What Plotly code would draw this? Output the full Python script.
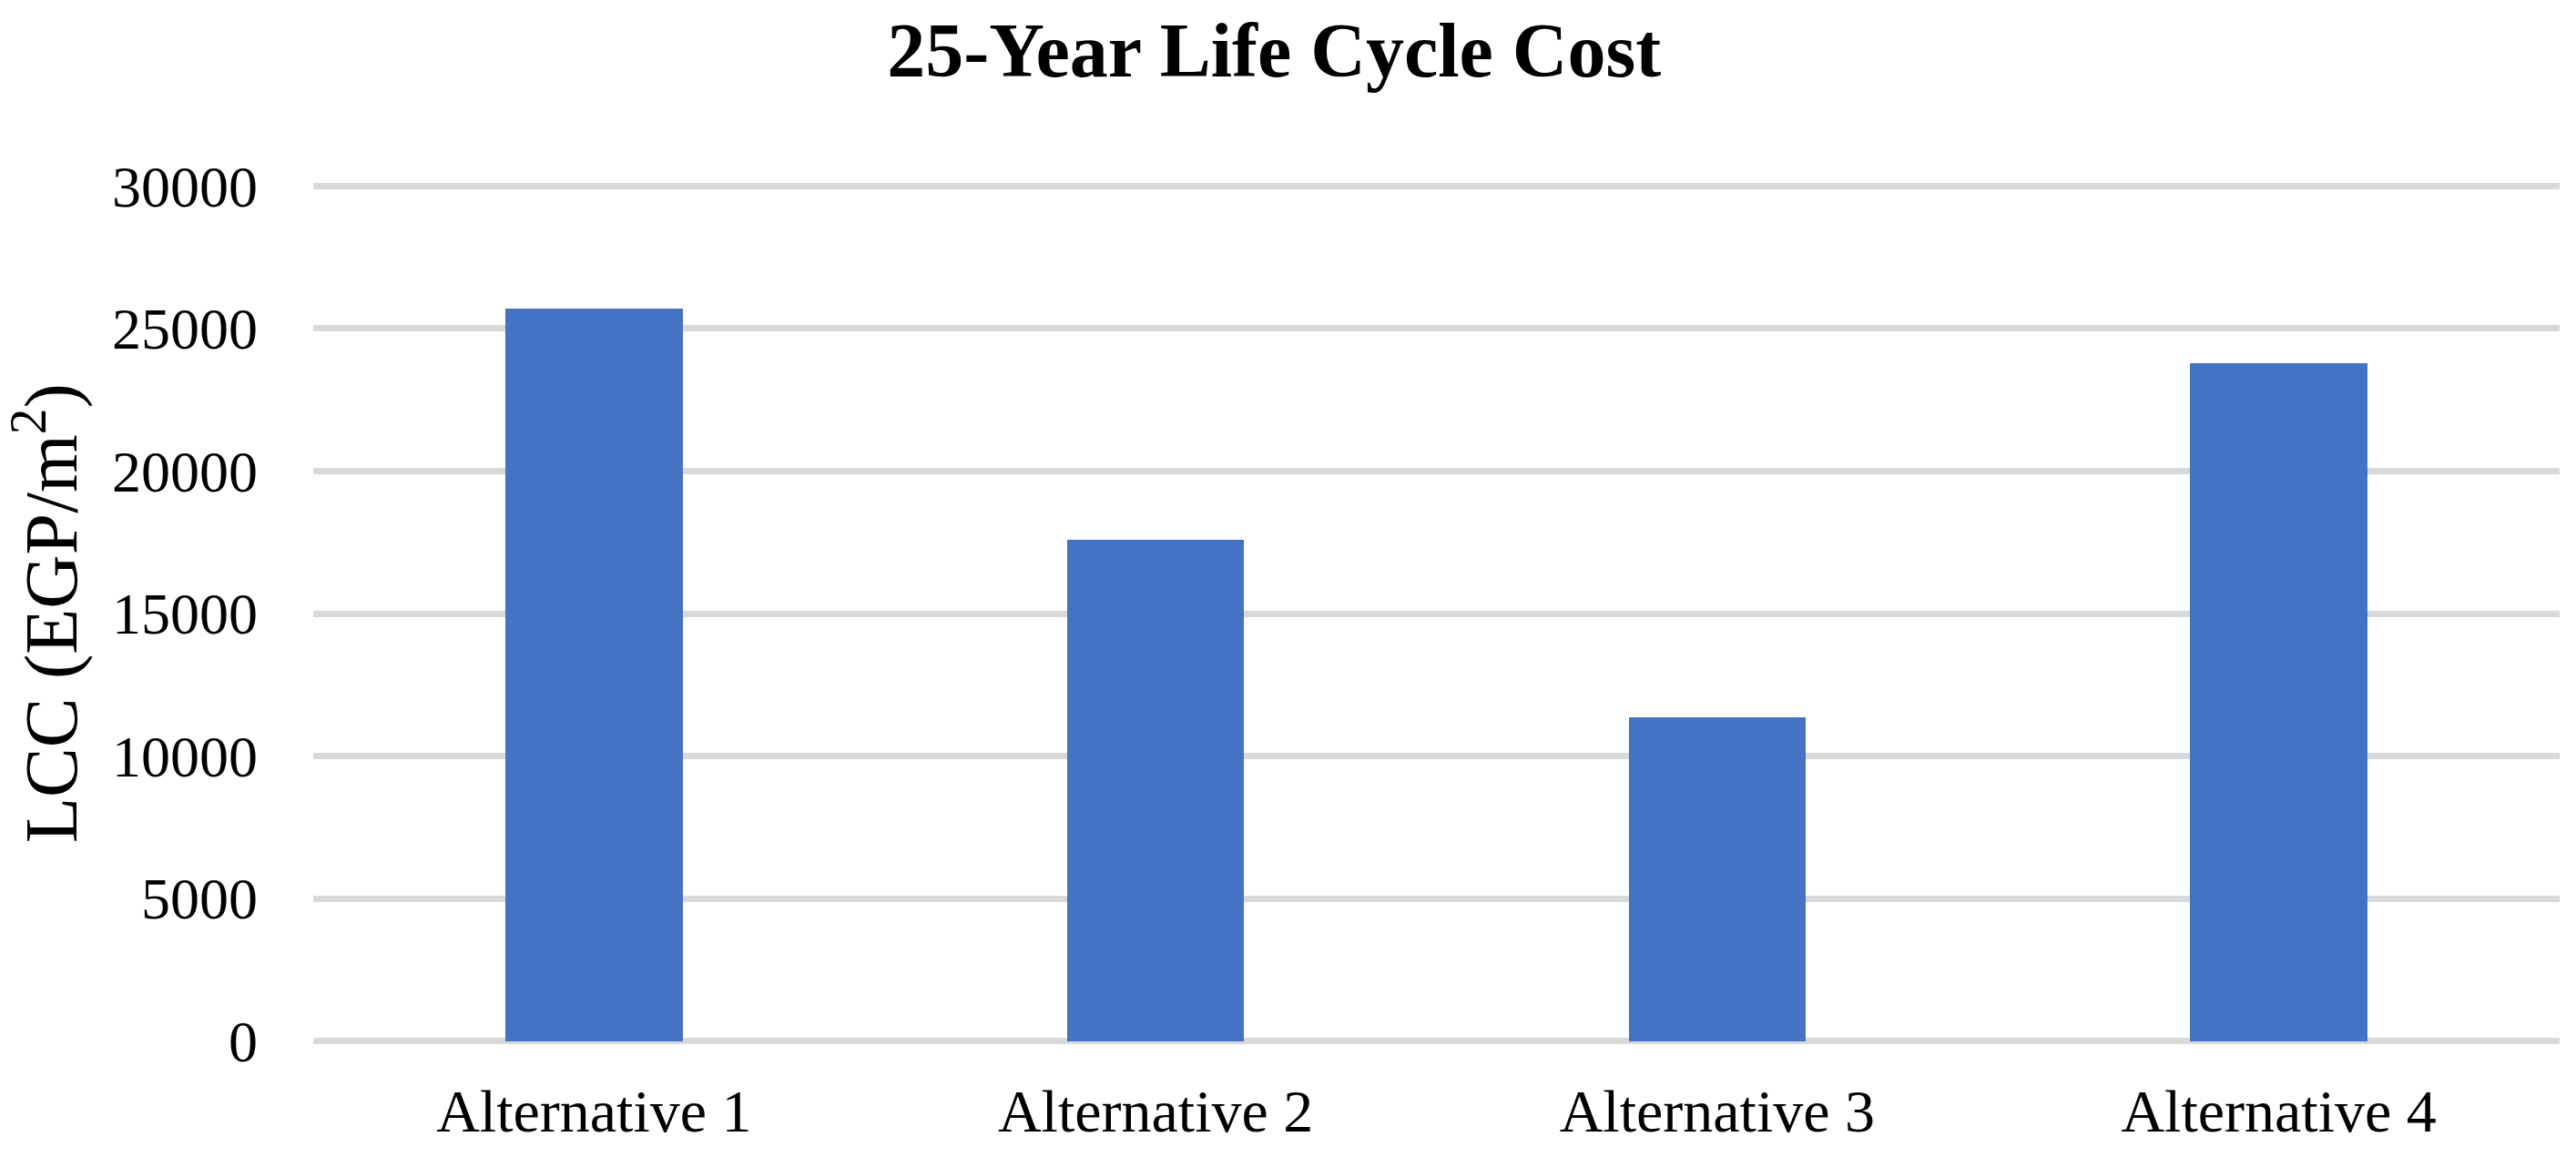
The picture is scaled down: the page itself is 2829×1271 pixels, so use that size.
import plotly.graph_objects as go

categories = ["Alternative 1", "Alternative 2", "Alternative 3", "Alternative 4"]
lcc_values = [25700, 17600, 11370, 23800]
y_tick_values = [0, 5000, 10000, 15000, 20000, 25000, 30000]
y_tick_labels = ["0", "5000", "10000", "15000", "20000", "25000", "30000"]

W, H = 2829, 1271
L, R, T, B = 344, 18, 195, 118
serif = "Liberation Serif, Times New Roman, serif"

fig = go.Figure(
    go.Bar(
        x=categories,
        y=lcc_values,
        marker=dict(color="#4472C4", line=dict(width=0)),
        width=0.315,
    )
)

fig.update_layout(
    width=W,
    height=H,
    margin=dict(l=L, r=R, t=T, b=B, pad=0, autoexpand=False),
    paper_bgcolor="white",
    plot_bgcolor="white",
    showlegend=False,
    title=dict(
        text="<b>25-Year Life Cycle Cost</b>",
        x=0.4946,
        xanchor="center",
        xref="container",
        y=1 - 55 / H,
        yanchor="middle",
        yref="container",
        font=dict(family=serif, size=84, color="black"),
    ),
    bargap=0,
)

fig.update_xaxes(
    showgrid=False,
    zeroline=False,
    showline=False,
    ticks="",
    automargin=False,
    tickfont=dict(family=serif, size=66, color="black"),
    ticklabelstandoff=23,
)
fig.update_yaxes(
    range=[-300, 30300],
    tickvals=y_tick_values,
    ticktext=y_tick_labels,
    showgrid=True,
    gridcolor="#D9D9D9",
    gridwidth=6.5,
    zeroline=False,
    showline=False,
    ticks="",
    automargin=False,
    tickfont=dict(family=serif, size=64, color="black"),
    ticklabelstandoff=60,
)

plot_w = W - L - R
fig.add_annotation(
    text="LCC (EGP/m<sup>2</sup>)",
    xref="paper",
    yref="paper",
    x=-(L - 50) / plot_w,
    y=0.5,
    xanchor="center",
    yanchor="middle",
    textangle=-90,
    showarrow=False,
    font=dict(family=serif, size=82, color="black"),
)

fig.write_html(
    "out.html",
    config={"displayModeBar": False},
    post_script="document.body.style.margin='0';document.body.style.padding='0';",
)
